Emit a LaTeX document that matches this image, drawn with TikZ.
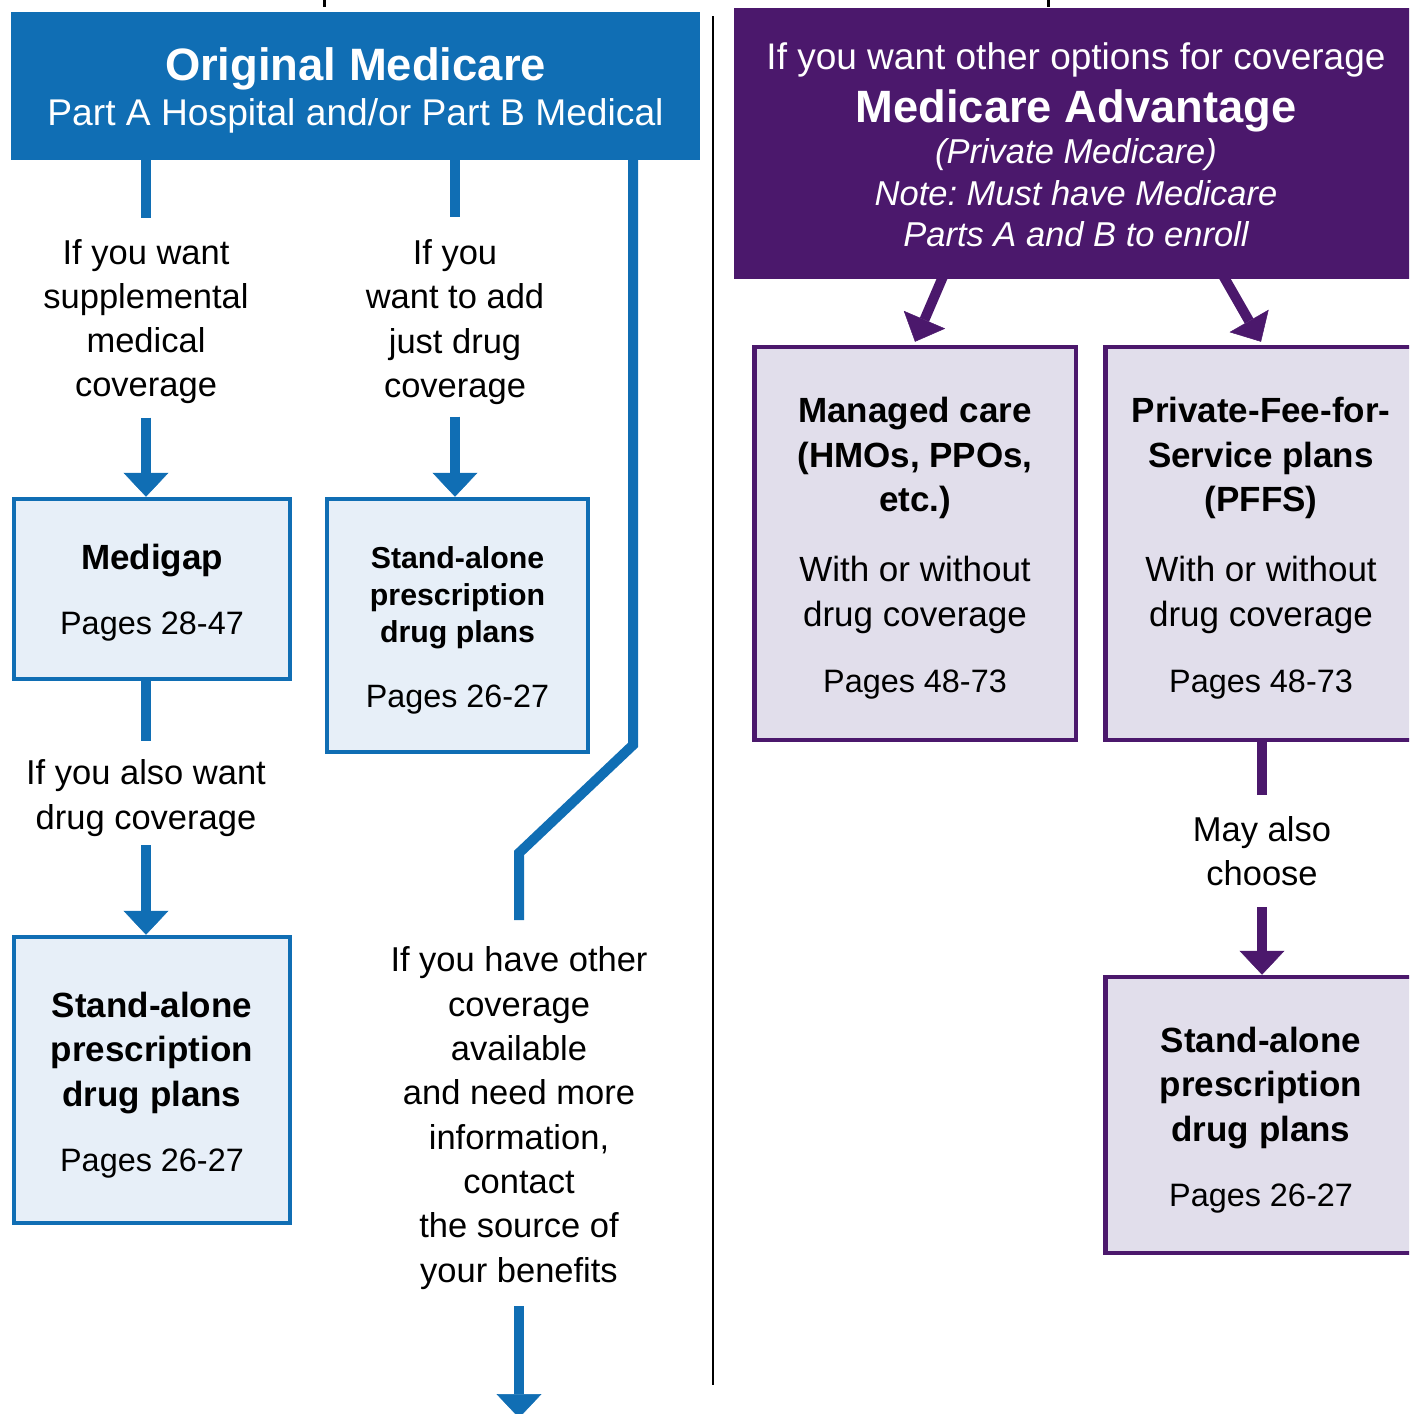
\documentclass[tikz,border=0pt]{standalone}
\usepackage{fontspec}
\setmainfont{Liberation Sans}
\usetikzlibrary{arrows.meta}
\definecolor{mblue}{RGB}{16,110,180}
\definecolor{lblue}{RGB}{231,239,248}
\definecolor{mpurp}{RGB}{75,24,108}
\definecolor{lpurp}{RGB}{225,222,235}
\newcommand{\fsz}[2]{\fontsize{#1}{#2}\selectfont}
\newcommand{\tallrow}[1]{\rule{0pt}{#1}}
\frenchspacing
\begin{document}
\begin{tikzpicture}[x=1pt,y=-1pt,
  hdr/.style={rectangle, inner sep=0pt, outer sep=0pt, text=white, align=center},
  bbox/.style={rectangle, draw=mblue, fill=lblue, line width=4.5pt, inner sep=0pt, align=center},
  pbox/.style={rectangle, draw=mpurp, fill=lpurp, line width=4.5pt, inner sep=0pt, align=center},
  lbl/.style={rectangle, inner sep=0pt, outer sep=0pt, align=center, font=\fsz{34.5}{44.3}},
  bline/.style={draw=mblue, line width=10pt},
  barrow/.style={bline, -{Triangle[length=24pt,width=45pt,line width=0.5pt]}},
  pline/.style={draw=mpurp, line width=10pt},
  parrow/.style={pline, -{Triangle[length=24pt,width=45pt,line width=0.5pt]}},
  bodyb/.style={font=\fsz{35}{44.5}\bfseries},
]
\useasboundingbox (0,0) rectangle (1409,1414);
\clip (0,0) rectangle (1409,1414);
% ticks and divider
\draw[line width=3pt] (324,0) -- (324,7);
\draw[line width=3pt] (1048,0) -- (1048,7);
\draw[line width=2.5pt] (713,16) -- (713,1385);

% headers
\node[hdr, fill=mblue, minimum width=689pt, minimum height=148pt, font=\fsz{37.2}{45}] (hdrO) at (355.5,86)
  {\tallrow{41.6pt}{\fsz{45.4}{45}\bfseries Original Medicare}\\Part A Hospital and/or Part B Medical};
\node[hdr, fill=mpurp, minimum width=684pt, minimum height=271pt, font=\fsz{34.5}{41.5}] (hdrM) at (1076,143.5)
  {\tallrow{29pt}{\fsz{37}{41.5}If you want other options for coverage}\\[11.5pt]
   {\fsz{45.3}{41.5}\bfseries Medicare Advantage}\\
   \itshape (Private Medicare)\\
   \itshape Note: Must have Medicare\\
   \itshape Parts A and B to enroll};

% labels
\node[lbl, minimum height=200pt] (lblA) at (146,317.5) {\tallrow{33.2pt}If you want\\supplemental\\medical\\coverage};
\node[lbl, minimum height=200pt] (lblB) at (455,316.5) {\tallrow{36.2pt}If you\\want to add\\just drug\\coverage};
\node[lbl, minimum height=104pt] (lblC) at (146,793) {\tallrow{35.2pt}If you also want\\drug coverage};
\node[lbl, minimum height=386pt] (lblD) at (519,1113) {\tallrow{35.2pt}If you have other\\coverage\\available\\and need more\\information,\\contact\\the source of\\your benefits};
\node[lbl, minimum height=112pt] (lblE) at (1262,851) {May also\\choose};

% boxes
\node[bbox, bodyb, minimum width=276pt, minimum height=180pt] (medigap) at (152,589)
  {\tallrow{33.5pt}Medigap\\[20.5pt]{\fsz{32.4}{44.5}\mdseries Pages 28-47}};
\node[bbox, font=\fsz{30.3}{37}\bfseries, minimum width=261pt, minimum height=253pt] (sapdB) at (457.5,625.5)
  {\tallrow{32pt}Stand-alone\\prescription\\drug plans\\[27.8pt]{\fsz{32.3}{37}\mdseries Pages 26-27}};
\node[bbox, bodyb, minimum width=276pt, minimum height=286pt] (sapdA) at (152,1080)
  {\tallrow{35.6pt}Stand-alone\\prescription\\drug plans\\[20.5pt]{\fsz{32.4}{44.5}\mdseries Pages 26-27}};
\node[pbox, bodyb, minimum width=321.5pt, minimum height=393pt] (mc) at (915,543.5)
  {\tallrow{35.6pt}Managed care\\(HMOs, PPOs,\\etc.)\\[25.5pt]{\mdseries With or without}\\[0.5pt]{\mdseries drug coverage}\\[21.5pt]{\fsz{32.4}{44.5}\mdseries Pages 48-73}};
\node[pbox, bodyb, minimum width=311.5pt, minimum height=393pt] (pffs) at (1261,543.5)
  {\tallrow{35.6pt}Private-Fee-for-\\Service plans\\(PFFS)\\[25.5pt]{\mdseries With or without}\\[0.5pt]{\mdseries drug coverage}\\[21.5pt]{\fsz{32.4}{44.5}\mdseries Pages 48-73}};
\node[pbox, bodyb, minimum width=311.5pt, minimum height=276pt] (sapdC) at (1261,1115)
  {\tallrow{35.6pt}Stand-alone\\prescription\\drug plans\\[20.5pt]{\fsz{32.4}{44.5}\mdseries Pages 26-27}};

% connectors
\draw[bline] (hdrO.south -| lblA.north) -- (lblA.north);
\draw[barrow] (lblA.south) -- (medigap.north -| lblA.south);
\draw[bline] (hdrO.south -| lblB.north) -- (lblB.north);
\draw[barrow] (lblB.south) -- (sapdB.north -| lblB.south);
\draw[bline] (medigap.south -| lblC.north) -- (lblC.north);
\draw[barrow] (lblC.south) -- (sapdA.north -| lblC.south);
\coordinate (bendA) at (633,745);
\coordinate (bendB) at (519,853);
\draw[bline, line join=miter] (hdrO.south -| bendA) -- (bendA) -- (bendB) -- (lblD.north);
\coordinate (exitD) at (519,1418);
\draw[barrow] (lblD.south) -- (exitD);
\draw[parrow] ([xshift=-131.5pt,yshift=6pt]hdrM.south) -- ([yshift=3pt]mc.north);
\draw[parrow] ([xshift=145.6pt,yshift=6pt]hdrM.south) -- ([yshift=3pt]pffs.north);
\draw[pline] (pffs.south -| lblE.north) -- (lblE.north);
\draw[parrow] (lblE.south) -- (sapdC.north -| lblE.south);
\end{tikzpicture}
\end{document}
